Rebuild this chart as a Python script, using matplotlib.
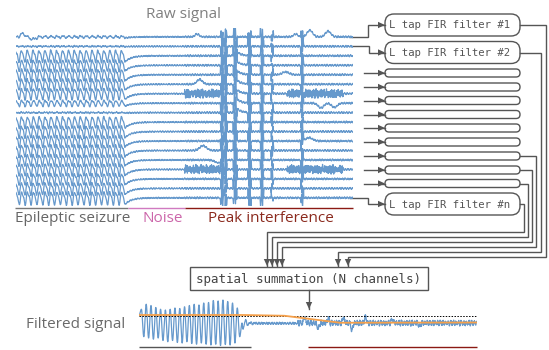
import numpy as np
import matplotlib
matplotlib.use("Agg")
import matplotlib.pyplot as plt
from matplotlib.patches import FancyBboxPatch, Polygon, Rectangle

# ---------------- data ----------------
n_channels = 18
seizure_amp = [0.12, 0.04, 0.65, 0.62, 0.65, 0.62, 0.60, 0.32, 0.04,
               0.62, 0.65, 0.62, 0.65, 0.62, 0.65, 0.62, 0.65, 0.70]
seizure_end = 0.323
seizure_cycles = 18.5
spike_times = [0.612, 0.622, 0.650, 0.693, 0.730, 0.760, 0.849]
spike_widths = [0.010, 0.008, 0.012, 0.010, 0.010, 0.006, 0.008]
spike_amps = [1.1, 1.0, 1.2, 1.1, 1.1, 0.8, 0.9]
burst_channels = [6, 14]
burst_starts = [0.50, 0.804]
burst_ends = [0.62, 0.97]
burst_amp = 0.45
bump_channel = [0, 0, 0, 0, 0, 0, 5, 12, 7, 7, 13, 4, 11]
bump_time = [0.02, 0.05, 0.537, 0.83, 0.872, 0.926, 0.545, 0.555, 0.905, 0.945, 0.60, 0.80, 0.87]
bump_amp = [0.35, -0.25, 0.3, 0.3, 0.7, 0.6, 0.5, 0.5, -0.5, -0.45, -0.3, 0.3, 0.35]
bump_width = [0.006, 0.008, 0.006, 0.006, 0.008, 0.008, 0.008, 0.01, 0.008, 0.008, 0.01, 0.01, 0.01]
jitter = [0.3, -0.5, 0.8, -0.2, -0.9, 0.4, 0.1, -0.6, 0.9, -0.3, 0.2, -0.8, 0.5, 0.7, -0.4,
          -0.1, 0.6, -0.7, 0.3, -0.2, 0.9, -0.5, 0.0, 0.4, -0.9, 0.2, 0.6, -0.3, -0.6, 0.8, -0.1]
jitter2 = [-0.4, 0.7, 0.1, -0.8, 0.5, -0.2, 0.9, -0.6, 0.3, 0.0, -0.9, 0.6, -0.3,
           0.8, -0.5, 0.2, -0.7, 0.4, 1.0, -0.1, -0.6, 0.5, -0.2]

filt_tops = [0.55, 0.75, 0.70, 0.62, 0.55, 0.52, 0.55, 0.60, 0.58, 0.65, 0.70,
             0.75, 0.72, 0.80, 0.82, 0.90, 0.88, 0.92, 0.86, 0.80, 0.60]
filt_bottoms = [-0.55, -0.60, -0.65, -0.60, -0.70, -0.75, -0.70, -0.78, -0.80, -0.75, -0.82,
                -0.85, -0.80, -0.85, -0.88, -0.85, -0.90, -0.86, -0.88, -0.80, -0.55]
filt_seizure_end = 0.305
threshold_level = 0.28
orange_t = [0.0, 0.31, 0.43, 0.595, 1.0]
orange_v = [0.32, 0.32, 0.29, 0.01, 0.02]
filt_spike_t = [0.49, 0.53, 0.56, 0.605, 0.63, 0.67, 0.75, 0.83]
filt_spike_a = [0.25, -0.25, 0.2, 0.25, -0.3, 0.28, 0.18, -0.15]

filter_labels = ["L tap FIR filter #1", "L tap FIR filter #2", "L tap FIR filter #n"]
summation_label = "spatial summation (N channels)"
section_labels = ["Epileptic seizure", "Noise", "Peak interference"]
section_colors = ["#666666", "#cc66aa", "#8b2a1e"]
line_colors = ["#777777", "#d07ac0", "#8b1a14"]

SIG = "#6699cc"
GRAY = "#555555"
W, H = 549, 350

plt.rcParams['font.family'] = ['Open Sans', 'DejaVu Sans']

fig = plt.figure(figsize=(W / 100, H / 100), dpi=100)


def px_rect(x0, y0, x1, y1):
    return [x0 / W, 1 - y1 / H, (x1 - x0) / W, (y1 - y0) / H]


ov = fig.add_axes([0, 0, 1, 1])
ov.set_xlim(0, W)
ov.set_ylim(H, 0)
ov.axis('off')

# ---------------- raw signal ----------------
N = 3000
t = np.linspace(0, 1, N)
j1 = np.array(jitter)
j2 = np.array(jitter2)
n_idx = np.arange(N)


def texture(off, a=3, b=5):
    # combination of two hand-typed jitter patterns of coprime lengths
    return 0.6 * j1[(n_idx * a + off) % len(j1)] + 0.6 * j2[(n_idx * b + 2 * off) % len(j2)]


def smooth(x, k=3):
    return np.convolve(x, np.ones(k) / k, mode='same')


raw = fig.add_axes(px_rect(16, 28, 353, 206))
raw.set_xlim(0, 1)
raw.set_ylim(-17.845, 0.95)
raw.axis('off')

f = seizure_cycles / seizure_end
for i in range(n_channels):
    y = np.zeros(N)
    A = seizure_amp[i]
    sz = t < seizure_end
    ph0 = 0.25 * j1[i % len(j1)]
    wob = 0.5 * smooth(texture(i * 9 + 1, 1, 1), 151)
    phase = 2 * np.pi * f * (t - seizure_end) - np.pi / 2 + (ph0 + wob) * (1 - t / seizure_end)
    wave = np.sin(phase) + 0.3 * np.sin(2 * phase + 0.6)
    env = 1 + 0.2 * smooth(texture(i * 4, 1, 1), 201)
    y[sz] = (A * env * wave / 1.15)[sz]
    after = ~sz
    y[after] = -A * np.exp(-(t[after] - seizure_end) / 0.018)
    # background texture
    base_amp = np.where(t < seizure_end, 0.10, np.where(t < 0.5, 0.10, 0.14))
    y += base_amp * 2.2 * smooth(texture(i * 7, 3, 7), 7) + 0.07 * smooth(texture(i * 11 + 3, 1, 2), 25)
    # slow bumps
    for c, tb, ab, wb in zip(bump_channel, bump_time, bump_amp, bump_width):
        if c == i:
            y += ab * np.exp(-0.5 * ((t - tb) / wb) ** 2)
    # noise bursts
    if i in burst_channels:
        for b0, b1 in zip(burst_starts, burst_ends):
            m = (t > b0) & (t < b1)
            y[m] += burst_amp * texture(i * 5, 13, 11)[m]
    # spikes: a few sharp alternating deflections inside each spike window
    for k, (ts, ws, a_s) in enumerate(zip(spike_times, spike_widths, spike_amps)):
        scale = 1 + 0.35 * j2[(i * 3 + k) % len(j2)]
        for q in range(4):
            tq = ts - ws / 2 + ws * (q + 0.5) / 4 + 0.001 * j1[(i + q + k) % len(j1)]
            sgn = 1 if (q + i + k) % 2 == 0 else -1
            aq = a_s * scale * (0.6 + 0.4 * abs(j1[(i * 5 + q * 3 + k) % len(j1)]))
            y += sgn * aq * np.exp(-0.5 * ((t - tq) / 0.0007) ** 2)
        if k == 2 and 2 <= i <= 8:
            tail = t > ts
            y[tail] += 0.7 * np.exp(-(t[tail] - ts) / 0.012)
    raw.plot(t, y - i, color=SIG, lw=0.9, solid_joinstyle='round')

# ---------------- filtered signal ----------------
filt = fig.add_axes(px_rect(139, 298, 477, 348))
filt.set_xlim(0, 1)
filt.set_ylim(-1, 1)
filt.axis('off')

extremes = [0.3]
for a, b in zip(filt_tops, filt_bottoms):
    extremes += [a, b]
extremes += [0.0]
n_ext = len(extremes)
half = filt_seizure_end / (n_ext - 1)
times = np.arange(n_ext) * half
fy = np.zeros(N)
for j in range(n_ext - 1):
    m = (t >= times[j]) & (t <= times[j + 1])
    s = (t[m] - times[j]) / half
    fy[m] = extremes[j] + (extremes[j + 1] - extremes[j]) * (1 - np.cos(np.pi * s)) / 2
post = t > filt_seizure_end
tp = t[post] - filt_seizure_end
fy[post] = -0.3 * np.sin(2 * np.pi * tp / 0.014) * np.exp(-tp / 0.012) - 0.02
noise_amp = np.where(t < 0.47, 0.06, 0.15)
fnoise = noise_amp * 2.4 * smooth(texture(5, 3, 7), 7) + noise_amp * 1.0 * smooth(texture(2, 1, 3), 21)
fy[post] += fnoise[post]
for ts, a in zip(filt_spike_t, filt_spike_a):
    fy += a * np.exp(-0.5 * ((t - ts) / 0.0025) ** 2)
filt.plot(t, fy, color=SIG, lw=0.9)
filt.axhline(threshold_level, color='black', lw=0.7, ls=(0, (1.5, 1.5)))
filt.plot(orange_t, orange_v, color='#f5a04a', lw=1.3)

# ---------------- labels ----------------
ov.text(184, 18, "Raw signal", ha='center', va='baseline', fontsize=11, color='#808080')
ov.text(26, 324, "Filtered signal", ha='left', va='center', fontsize=11, color='#6a6a6a')
label_x = [15, 143, 208]
for lx, txt, c in zip(label_x, section_labels, section_colors):
    ov.text(lx, 222, txt, ha='left', va='baseline', fontsize=11, color=c)
seg = [(15, 128), (128, 185), (185, 353)]
for (a, b), c in zip(seg, line_colors):
    ov.plot([a, b], [207.5, 207.5], color=c, lw=1.0, solid_capstyle='butt')
ov.plot([139, 251], [347, 347], color='#555555', lw=1.0, solid_capstyle='butt')
ov.plot([308, 477], [347, 347], color='#8b1a14', lw=1.0, solid_capstyle='butt')


# ---------------- diagram ----------------
def head(x, y, d):
    L, w = 7, 3.2
    if d == 'r':
        pts = [(x, y), (x - L, y - w), (x - L, y + w)]
    else:
        pts = [(x, y), (x - w, y - L), (x + w, y - L)]
    ov.add_patch(Polygon(pts, closed=True, color=GRAY, lw=0))


def path(xs, ys, end=None):
    ov.plot(xs, ys, color=GRAY, lw=1.0, solid_joinstyle='miter')
    if end:
        head(xs[-1], ys[-1], end)


def rbox(x0, y0, x1, y1, r):
    ov.add_patch(FancyBboxPatch((x0, y0), x1 - x0, y1 - y0,
                                boxstyle=f"round,pad=0,rounding_size={r}",
                                fc='white', ec=GRAY, lw=1.0))


BX0, BX1 = 385, 520
big_centers = [25, 52.5, 204]
for c, lab in zip(big_centers, filter_labels):
    rbox(BX0, c - 11, BX1, c + 11, 9)
    ov.text(BX0 + 4, c + 0.5, lab, ha='left', va='center', fontsize=7.7,
            family='DejaVu Sans Mono', color='#555555')
small_centers = [73, 87, 100.5, 114.5, 128, 142, 156, 170, 183.5]
for c in small_centers:
    rbox(BX0, c - 4, BX1, c + 4, 4)
    path([364, BX0], [c, c], 'r')

# inputs from channels
path([350, 368, 368, BX0], [37, 37, 25, 25], 'r')
path([350, 369, 369, BX0], [46, 46, 52.5, 52.5], 'r')
path([350, 368, 368, BX0], [198, 198, 204, 204], 'r')

# outputs to summation
SUM = (190, 267, 428, 290)
outs = [(25, 546, 257, 348), (52.5, 541, 252, 338), (156, 536, 247, 282),
        (170, 532, 242, 277), (183.5, 528, 237, 272), (204, 524, 232, 267)]
for yy, xr, yh, xd in outs:
    path([BX1, xr, xr, xd, xd], [yy, yy, yh, yh, SUM[1] - 1], 'd')

ov.add_patch(Rectangle((SUM[0], SUM[1]), SUM[2] - SUM[0], SUM[3] - SUM[1],
                       fc='white', ec=GRAY, lw=1.0))
ov.text((SUM[0] + SUM[2]) / 2, (SUM[1] + SUM[3]) / 2 + 0.5, summation_label,
        ha='center', va='center', fontsize=9, family='DejaVu Sans Mono', color='#444444')
path([309, 309], [SUM[3], 309], 'd')

fig.savefig("out.png", dpi=100)
